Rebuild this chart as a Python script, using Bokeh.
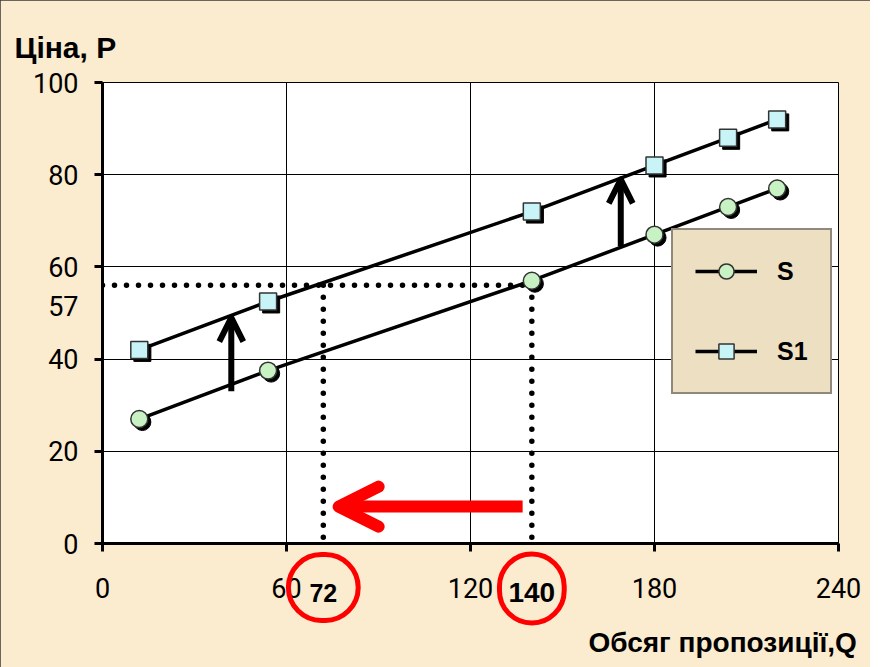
from bokeh.plotting import figure
from bokeh.models import (Range1d, FixedTicker, Label, Arrow, OpenHead, Legend,
                          LegendItem, ColumnDataSource)
from bokeh.transform import dodge
from bokeh.embed import file_html
from bokeh.resources import INLINE

# ---- data ----
quantity = [12, 54, 140, 180, 204, 220]
price_s = [27, 37.5, 57, 67, 73, 77]
price_s1 = [42, 52.5, 72, 82, 88, 92]
x_ticks = [0, 60, 120, 180, 240]
y_ticks = [0, 20, 40, 60, 80, 100]
q_old = 140
q_new = 72
p_level = 56
p_label = "57"
shift_q = [42, 169]
shift_from = [33, 64.5]
shift_to = [49, 79]
red_q = [137, 77]
red_p = 8

TICK_FONT = "Roboto"
SANS = "Liberation Sans"
PEACH = "#FBEBCF"

p = figure(frame_width=736, frame_height=461,
           min_border_left=102, min_border_right=32,
           min_border_top=82, min_border_bottom=108,
           x_range=Range1d(0, 240), y_range=Range1d(0, 100),
           output_backend="svg", toolbar_location=None,
           background_fill_color="white", border_fill_color=PEACH)
p.styles = {"outline": "2px solid #3a3a3a", "outline-offset": "-2px"}
p.outline_line_color = "black"
p.outline_line_width = 1

for ax in (p.xaxis[0], p.yaxis[0]):
    ax.axis_line_width = 3
    ax.axis_line_color = "black"
    ax.major_tick_line_width = 3
    ax.major_tick_line_color = "black"
    ax.major_tick_out = 8
    ax.major_tick_in = 0
    ax.minor_tick_line_color = None
    ax.major_label_text_font = TICK_FONT
    ax.major_label_text_font_size = "27px"
    ax.major_label_text_color = "black"
p.xaxis.ticker = FixedTicker(ticks=x_ticks)
p.yaxis.ticker = FixedTicker(ticks=y_ticks)
p.xaxis.major_label_standoff = 26
p.yaxis.major_label_standoff = 16

p.xgrid.ticker = FixedTicker(ticks=x_ticks)
p.ygrid.ticker = FixedTicker(ticks=y_ticks)
for g in (p.xgrid[0], p.ygrid[0]):
    g.grid_line_color = "black"
    g.grid_line_width = 1
    g.grid_line_alpha = 1

src = ColumnDataSource(dict(q=quantity, s=price_s, s1=price_s1))

# dotted guide lines
dot = dict(line_color="black", line_width=5.5, line_dash="0 12", line_cap="round")
p.line([0, q_old], [p_level, p_level], **dot)
p.line([q_new, q_new], [p_level, 0], **dot)
p.line([q_old, q_old], [p_level, 0], **dot)

line_s = p.line("q", "s", source=src, line_color="black", line_width=3.5)
line_s1 = p.line("q", "s1", source=src, line_color="black", line_width=3.5)

# drop shadows
p.scatter(dodge("q", 1.0), dodge("s", -0.65), source=src, marker="circle",
          size=17, fill_color="black", line_color="black")
p.scatter(dodge("q", 1.0), dodge("s1", -0.65), source=src, marker="square",
          size=17, fill_color="black", line_color="black")

mk_s = p.scatter("q", "s", source=src, marker="circle", size=17,
                 fill_color="#C8F2C4", line_color="#333333", line_width=1.5)
mk_s1 = p.scatter("q", "s1", source=src, marker="square", size=17,
                  fill_color="#C8F4F8", line_color="#333333", line_width=1.5)

legend = Legend(items=[LegendItem(label="S", renderers=[line_s, mk_s]),
                       LegendItem(label="S1", renderers=[line_s1, mk_s1])],
                location=(569, 149))
legend.background_fill_color = "#ECDFC2"
legend.background_fill_alpha = 1
legend.border_line_color = "#333333"
legend.border_line_width = 2
legend.label_text_font = SANS
legend.label_text_font_style = "bold"
legend.label_text_font_size = "25px"
legend.label_text_color = "black"
legend.glyph_width = 62
legend.glyph_height = 38
legend.label_height = 38
legend.spacing = 42
legend.padding = 22
legend.margin = 0
legend.label_standoff = 20
p.add_layout(legend)

# shift arrows
for q, a, b in zip(shift_q, shift_from, shift_to):
    p.add_layout(Arrow(x_start=q, y_start=a, x_end=q, y_end=b,
                       line_width=6, line_color="black",
                       end=OpenHead(size=24, line_width=6, line_color="black",
                                    line_join="round")))
p.add_layout(Arrow(x_start=red_q[0], y_start=red_p, x_end=red_q[1], y_end=red_p,
                   line_width=12, line_color="red",
                   end=OpenHead(size=40, line_width=12, line_color="red",
                                line_cap="round", line_join="round")))

# texts (placed in a side panel so they are not clipped to the frame)
txt = dict(text_color="black")
p.add_layout(Label(x=0, y=100, x_offset=-88, y_offset=35,
                   text="Ціна, Р", text_font=SANS, text_font_style="bold",
                   text_font_size="30px", text_baseline="alphabetic", **txt), "below")
p.add_layout(Label(x=0, y=0, x_offset=486, y_offset=-99,
                   text="Обсяг пропозиції,Q", text_font=SANS, text_font_style="bold",
                   text_font_size="28px", text_baseline="alphabetic", **txt), "below")
p.add_layout(Label(x=0, y=57, x_offset=-24, y_offset=-25, text=p_label,
                   text_font=TICK_FONT, text_font_size="27px",
                   text_align="right", text_baseline="middle", **txt), "below")

# circled quantities: a red ring (rounded border, text hidden in background
# colour) drawn first, then the bold number on top
for q, fs, pad, ring_off in ((q_new, "25px", (21, 24), -44), (q_old, "28px", (9, 25), -45)):
    common = dict(x=q, y=0, text=str(q), text_font=SANS, text_font_style="bold",
                  text_font_size=fs, text_align="center", text_baseline="middle")
    p.add_layout(Label(y_offset=ring_off, text_color=PEACH, border_line_color="red",
                       border_line_width=5, border_radius=35, padding=pad,
                       **common), "below")
    p.add_layout(Label(y_offset=-49, text_color="black", **common), "below")

open("out.html", "w").write(file_html(p, INLINE))
